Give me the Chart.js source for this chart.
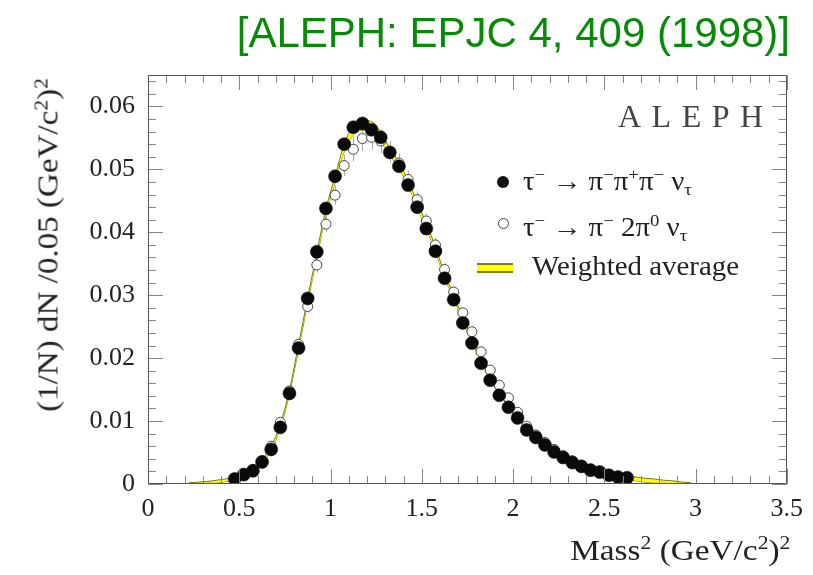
<!DOCTYPE html>
<html><head><meta charset="utf-8">
<script src="https://cdn.jsdelivr.net/npm/chart.js@4"></script>
<style>
html,body{margin:0;padding:0;background:#fff;}
#wrap{position:relative;width:813px;height:575px;overflow:hidden;}
#c{position:absolute;left:0;top:0;}
.o{position:absolute;white-space:nowrap;line-height:1;font-family:"Liberation Serif","Times New Roman",serif;color:#222;}
.o sup{font-size:65%;vertical-align:0;position:relative;top:-0.55em;}
.o sub{font-size:65%;vertical-align:0;position:relative;top:0.3em;}
.lg{transform-origin:left center;transform:scaleX(1.07);font-size:27px;}
#title{font-family:"Liberation Sans",Arial,sans-serif;color:#078a07;font-size:42px;right:23px;top:12px;}
#aleph{font-size:32px;letter-spacing:10.5px;left:618px;top:100px;color:#444;}
.dot{position:absolute;border-radius:50%;}
</style></head>
<body><div id="wrap">
<canvas id="c" width="813" height="575"></canvas>
<div class="o" id="title">[ALEPH: EPJC 4, 409 (1998)]</div>
<div class="o" id="aleph">ALEPH</div>
<div class="dot" style="left:497px;top:176px;width:12px;height:12px;background:#111;"></div>
<div class="o lg" style="left:523px;top:168px;">τ<sup>−</sup> → π<sup>−</sup>π<sup>+</sup>π<sup>−</sup> ν<sub>τ</sub></div>
<div class="dot" style="left:498px;top:218px;width:9px;height:9px;border:1px solid #444;background:#fff;"></div>
<div class="o lg" style="left:523px;top:214px;">τ<sup>−</sup> → π<sup>−</sup> 2π<sup>0</sup> ν<sub>τ</sub></div>
<div style="position:absolute;left:477px;top:263px;width:36px;height:6px;background:#ffff00;border-top:2px solid #7a7a2a;border-bottom:2px solid #7a7a2a;"></div>
<div class="o lg" style="left:532px;top:253px;">Weighted average</div>
<div class="o" id="ytitle" style="font-size:29px;left:48px;top:245px;transform:translate(-50%,-50%) rotate(-90deg) scaleX(1.14);">(1/N) dN /0.05 (GeV/c<sup>2</sup>)<sup>2</sup></div>
<div class="o" id="xtitle" style="font-size:30px;right:23px;top:535px;transform-origin:right center;transform:scaleX(1.11);">Mass<sup>2</sup> (GeV/c<sup>2</sup>)<sup>2</sup></div>
</div>
<script>
// ---- data ----
const massBins = [0.475,0.525,0.575,0.625,0.675,0.725,0.775,0.825,0.875,0.925,0.975,1.025,1.075,1.125,1.175,1.225,1.275,1.325,1.375,1.425,1.475,1.525,1.575,1.625,1.675,1.725,1.775,1.825,1.875,1.925,1.975,2.025,2.075,2.125,2.175,2.225,2.275,2.325,2.375,2.425,2.475,2.525,2.575,2.625];
const threePi = [0.0008,0.0015,0.0021,0.0035,0.0055,0.0090,0.0144,0.0216,0.0295,0.0369,0.0438,0.0489,0.0540,0.0567,0.0573,0.0563,0.0551,0.0527,0.0505,0.0475,0.0440,0.0406,0.0370,0.0327,0.0293,0.0256,0.0224,0.0192,0.0165,0.0141,0.0122,0.0105,0.0086,0.0074,0.0062,0.0051,0.0042,0.0034,0.0028,0.0022,0.0019,0.0014,0.0011,0.0010];
const threePiErr = [0.0002,0.0002,0.0002,0.0003,0.0003,0.0003,0.0004,0.0004,0.0005,0.0005,0.0005,0.0006,0.0006,0.0006,0.0006,0.0006,0.0006,0.0006,0.0006,0.0005,0.0005,0.0005,0.0005,0.0005,0.0004,0.0004,0.0004,0.0004,0.0003,0.0003,0.0003,0.0003,0.0003,0.0003,0.0002,0.0002,0.0002,0.0002,0.0002,0.0002,0.0002,0.0002,0.0002,0.0002];
const onePiTwoPi0 = [0.0009,0.0015,0.0023,0.0037,0.0060,0.0098,0.0148,0.0222,0.0282,0.0348,0.0413,0.0459,0.0506,0.0532,0.0549,0.0551,0.0545,0.0528,0.0510,0.0484,0.0452,0.0418,0.0380,0.0341,0.0305,0.0272,0.0242,0.0210,0.0181,0.0157,0.0137,0.0114,0.0092,0.0078,0.0066,0.0055,0.0045,0.0037,0.0030,0.0024,0.0020,0.0015,0.0012,0.0010];
const onePiTwoPi0Err = [0.0003,0.0003,0.0004,0.0004,0.0005,0.0006,0.0007,0.0009,0.0010,0.0012,0.0013,0.0015,0.0017,0.0019,0.0020,0.0020,0.0019,0.0017,0.0015,0.0014,0.0013,0.0012,0.0011,0.0010,0.0009,0.0008,0.0008,0.0007,0.0007,0.0006,0.0006,0.0005,0.0005,0.0005,0.0004,0.0004,0.0004,0.0003,0.0003,0.0003,0.0003,0.0003,0.0003,0.0003];
const avgBins = [0.225,0.275,0.325,0.375,0.425,0.475,0.525,0.575,0.625,0.675,0.725,0.775,0.825,0.875,0.925,0.975,1.025,1.075,1.125,1.175,1.225,1.275,1.325,1.375,1.425,1.475,1.525,1.575,1.625,1.675,1.725,1.775,1.825,1.875,1.925,1.975,2.025,2.075,2.125,2.175,2.225,2.275,2.325,2.375,2.425,2.475,2.525,2.575,2.625,2.675,2.725,2.775,2.825,2.875,2.925,2.975];
const avgValue = [0.0001,0.0002,0.0003,0.0004,0.0006,0.0009,0.0015,0.0022,0.0036,0.0057,0.0092,0.0146,0.0218,0.0292,0.0364,0.0432,0.0484,0.0534,0.0562,0.0570,0.0568,0.0552,0.0528,0.0506,0.0478,0.0444,0.0410,0.0373,0.0331,0.0297,0.0261,0.0229,0.0197,0.0169,0.0145,0.0126,0.0108,0.0088,0.0076,0.0063,0.0053,0.0043,0.0035,0.0029,0.0023,0.0019,0.0015,0.0012,0.0010,0.0008,0.0006,0.0005,0.0004,0.0003,0.0002,0.0001];
const avgHalfWidth = [0.0001,0.0001,0.0001,0.0002,0.0002,0.0002,0.0002,0.0002,0.0002,0.0003,0.0003,0.0003,0.0004,0.0004,0.0004,0.0005,0.0005,0.0006,0.0007,0.0008,0.0008,0.0007,0.0006,0.0005,0.0004,0.0004,0.0004,0.0004,0.0003,0.0003,0.0003,0.0003,0.0003,0.0003,0.0003,0.0002,0.0002,0.0002,0.0002,0.0002,0.0002,0.0002,0.0002,0.0002,0.0002,0.0002,0.0002,0.0002,0.0003,0.0003,0.0003,0.0003,0.0002,0.0002,0.0001,0.0001];
const xTickValues = [0,0.5,1,1.5,2,2.5,3,3.5];
const xTickLabels = ['0','0.5','1','1.5','2','2.5','3','3.5'];
const yTickValues = [0,0.01,0.02,0.03,0.04,0.05,0.06];
const yTickLabels = ['0','0.01','0.02','0.03','0.04','0.05','0.06'];
const xMinorStep = 0.1, yMinorStep = 0.002;

const pts = (xs, ys) => xs.map((x,i)=>({x, y: ys[i]}));

const errorBars = {
  id:'errorBars',
  beforeDatasetDraw(chart, args){
    const ds = chart.data.datasets[args.index];
    if(!ds.errors) return;
    const {ctx} = chart, xs = chart.scales.x, ys = chart.scales.y;
    ctx.save(); ctx.strokeStyle = ds.errorColor; ctx.lineWidth = 1; ctx.beginPath();
    ds.data.forEach((p,i)=>{
      const px = Math.round(xs.getPixelForValue(p.x))+0.5;
      ctx.moveTo(px, ys.getPixelForValue(p.y - ds.errors[i]));
      ctx.lineTo(px, ys.getPixelForValue(p.y + ds.errors[i]));
    });
    ctx.stroke(); ctx.restore();
  }
};
const frameTicks = {
  id:'frameTicks',
  afterDraw(chart){
    const {ctx, chartArea:a} = chart, xs = chart.scales.x, ys = chart.scales.y;
    ctx.save();
    ctx.strokeStyle = '#888'; ctx.lineWidth = 1; ctx.beginPath();
    const nx = Math.round((xs.max - xs.min)/xMinorStep);
    for(let k=0;k<=nx;k++){
      const px = Math.round(xs.getPixelForValue(xs.min + k*xMinorStep))+0.5;
      const L = k%5===0 ? 15 : 8;
      ctx.moveTo(px, a.bottom); ctx.lineTo(px, a.bottom-L);
      ctx.moveTo(px, a.top); ctx.lineTo(px, a.top+L);
    }
    const ny = Math.floor((ys.max - ys.min)/yMinorStep + 1e-6);
    for(let k=0;k<=ny;k++){
      const py = Math.round(ys.getPixelForValue(ys.min + k*yMinorStep))+0.5;
      const L = k%5===0 ? 15 : 8;
      ctx.moveTo(a.left, py); ctx.lineTo(a.left+L, py);
      ctx.moveTo(a.right, py); ctx.lineTo(a.right-L, py);
    }
    ctx.stroke();
    ctx.strokeStyle = '#555'; ctx.beginPath();
    ctx.rect(Math.round(a.left)+0.5, Math.round(a.top)+0.5, Math.round(a.right-a.left)-1, Math.round(a.bottom-a.top)-1);
    ctx.stroke();
    ctx.restore();
  }
};

const tickFont = {family:'"Liberation Serif","Times New Roman",serif', size:26};
new Chart(document.getElementById('c'), {
  type:'scatter',
  data:{datasets:[
    {label:'3pi', data:pts(massBins, threePi), errors:threePiErr, errorColor:'#999',
     pointRadius:6.5, pointBackgroundColor:'#0a0a0a', pointBorderColor:'#0a0a0a', pointBorderWidth:0.5, showLine:false},
    {label:'pi2pi0', data:pts(massBins, onePiTwoPi0), errors:onePiTwoPi0Err, errorColor:'#aaa',
     pointRadius:5, pointBackgroundColor:'#fff', pointBorderColor:'#444', pointBorderWidth:1, showLine:false},
    {label:'avgUp', data:pts(avgBins, avgValue.map((v,i)=>v+avgHalfWidth[i])), showLine:true, pointRadius:0,
     borderColor:'#7a7a20', borderWidth:1, cubicInterpolationMode:'monotone', fill:'+1', backgroundColor:'#ffff00'},
    {label:'avgLo', data:pts(avgBins, avgValue.map((v,i)=>v-avgHalfWidth[i])), showLine:true, pointRadius:0,
     borderColor:'#7a7a20', borderWidth:1, cubicInterpolationMode:'monotone', fill:false}
  ]},
  options:{
    responsive:false, animation:false, devicePixelRatio:1,
    layout:{padding:{top:75, right:21, left:0, bottom:0}},
    plugins:{legend:{display:false}, tooltip:{enabled:false}},
    scales:{
      x:{type:'linear', min:0, max:3.5,
        afterBuildTicks:s=>{s.ticks = xTickValues.map(v=>({value:v}));},
        afterFit:s=>{s.height = 91;},
        grid:{display:false, drawTicks:false}, border:{display:false},
        ticks:{font:tickFont, color:'#222', padding:10, maxRotation:0, autoSkip:false, callback:(v,i)=>xTickLabels[i]}},
      y:{type:'linear', min:0, max:0.065,
        afterBuildTicks:s=>{s.ticks = yTickValues.map(v=>({value:v}));},
        afterFit:s=>{s.width = 148;},
        grid:{display:false, drawTicks:false}, border:{display:false},
        ticks:{font:tickFont, color:'#222', padding:13, autoSkip:false, callback:(v,i)=>yTickLabels[i]}}
    }
  },
  plugins:[errorBars, frameTicks]
});
</script>
</body></html>
